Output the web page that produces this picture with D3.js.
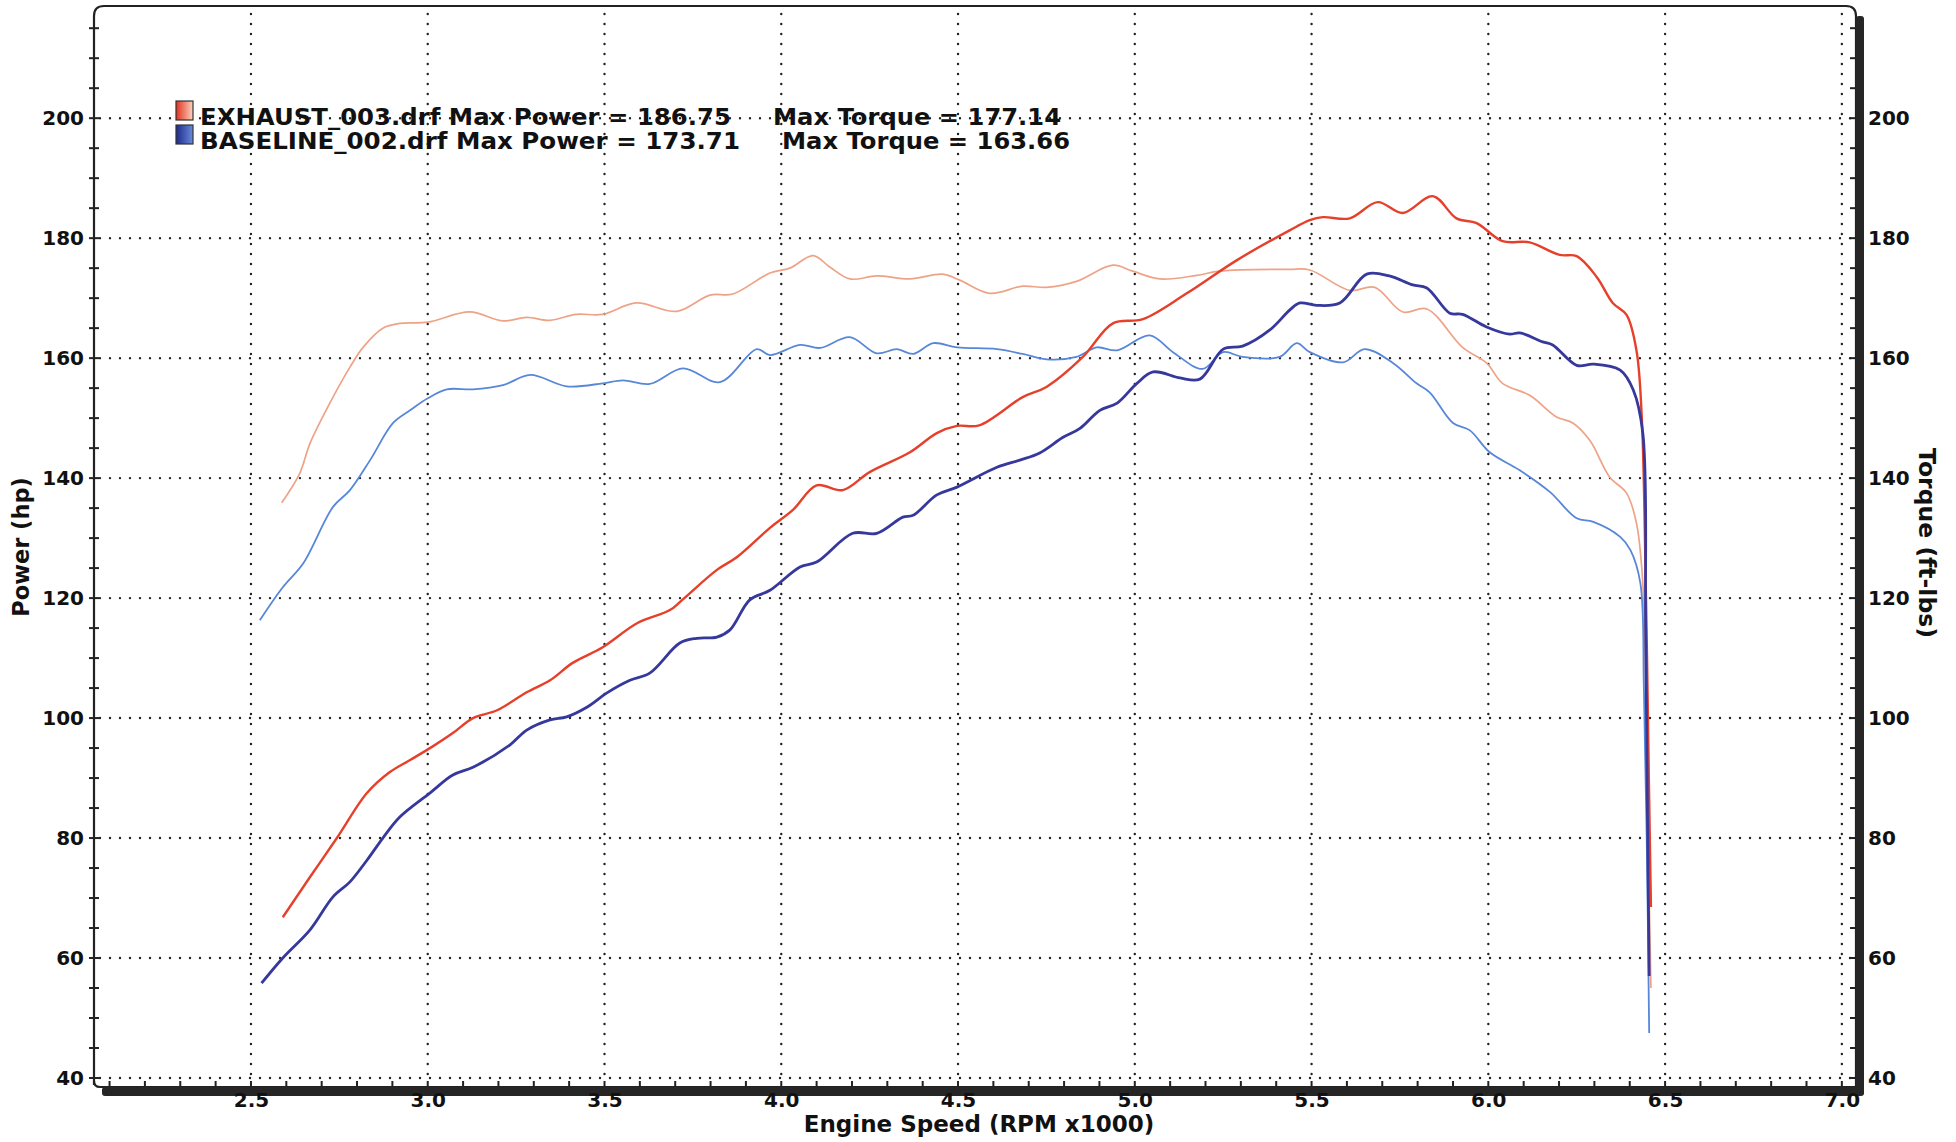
<!DOCTYPE html>
<html>

<head>
    <script src="https://d3js.org/d3.v7.min.js"></script>
    <style>
        body {
            margin: 0;
            background: #fff;
        }

        text {
            font-family: "DejaVu Sans", Verdana, sans-serif;
            font-weight: bold;
            fill: #111;
        }

        .grid {
            stroke: #222;
            stroke-width: 2.4;
            stroke-dasharray: 0, 10;
            stroke-linecap: round;
        }
    </style>
</head>

<body>
    <script>
        // [rpm x1000, value]
        var exhaustPower = [[2.59, 66.8], [2.667, 73.5], [2.743, 80], [2.828, 87.5], [2.893, 91], [2.95, 93], [3.012, 95.2],
        [3.071, 97.5], [3.128, 100], [3.196, 101.3], [3.28, 104.3], [3.346, 106.3], [3.41, 109.2], [3.495, 111.8],
        [3.592, 115.8], [3.685, 118], [3.72, 119.7], [3.818, 124.7], [3.874, 126.8], [3.968, 131.7], [4.033, 134.7],
        [4.1, 138.8], [4.174, 138], [4.25, 141], [4.364, 144.3], [4.44, 147.5], [4.497, 148.7], [4.56, 148.8],
        [4.683, 153.5], [4.75, 155.2], [4.853, 160.2], [4.938, 165.8], [5.023, 166.5], [5.147, 170.8], [5.288, 176.3],
        [5.438, 181.3], [5.495, 183], [5.532, 183.5], [5.608, 183.3], [5.687, 186], [5.758, 184.2], [5.843, 187],
        [5.91, 183.3], [5.967, 182.5], [6.04, 179.5], [6.117, 179.3], [6.202, 177.2], [6.25, 177], [6.307, 173.5],
        [6.352, 169.2], [6.391, 167.2], [6.419, 161.3], [6.434, 150.2], [6.446, 120], [6.454, 90], [6.46, 68.5]];

        var exhaustTorque = [[2.587, 135.9], [2.638, 140.8], [2.667, 145.8], [2.723, 152.5], [2.78, 158.5], [2.817, 161.8],
        [2.873, 165], [2.921, 165.8], [3.0, 166], [3.119, 167.7], [3.213, 166.2], [3.28, 166.8], [3.345, 166.3],
        [3.42, 167.3], [3.495, 167.3], [3.59, 169.2], [3.705, 167.8], [3.798, 170.5], [3.863, 170.7], [3.968, 174.2],
        [4.024, 175], [4.09, 177.1], [4.137, 175.2], [4.194, 173.2], [4.27, 173.7], [4.364, 173.2], [4.457, 174],
        [4.505, 173], [4.59, 170.8], [4.683, 172], [4.75, 171.8], [4.835, 172.8], [4.938, 175.5], [4.994, 174.5],
        [5.071, 173.2], [5.175, 173.8], [5.24, 174.5], [5.438, 174.8], [5.495, 174.7], [5.608, 171.3], [5.679, 171.8],
        [5.758, 167.7], [5.826, 168.2], [5.927, 161.8], [5.995, 159.2], [6.04, 155.8], [6.117, 153.8], [6.193, 150.2],
        [6.239, 149.2], [6.287, 146.3], [6.343, 140.2], [6.391, 137.5], [6.419, 132.5], [6.437, 122.5], [6.448, 95],
        [6.455, 70], [6.46, 55]];

        var baselinePower = [[2.53, 55.8], [2.59, 60], [2.667, 64.7], [2.732, 70.2], [2.78, 72.7], [2.828, 76.3], [2.873, 80],
        [2.921, 83.5], [3.006, 87.5], [3.071, 90.5], [3.128, 91.8], [3.232, 95.5], [3.28, 98], [3.346, 99.7],
        [3.393, 100.2], [3.45, 101.8], [3.507, 104.2], [3.572, 106.3], [3.628, 107.5], [3.713, 112.5], [3.761, 113.3],
        [3.818, 113.5], [3.855, 114.7], [3.911, 119.7], [3.968, 121.3], [4.053, 125.2], [4.1, 126], [4.202, 130.8],
        [4.27, 130.8], [4.344, 133.5], [4.373, 133.8], [4.44, 137.2], [4.497, 138.5], [4.61, 141.8], [4.675, 143],
        [4.731, 144.2], [4.797, 146.8], [4.845, 148.3], [4.901, 151.3], [4.95, 152.5], [5.006, 155.8], [5.052, 157.7],
        [5.128, 156.7], [5.184, 156.5], [5.25, 161.5], [5.305, 162], [5.382, 164.7], [5.438, 168], [5.467, 169.2],
        [5.514, 168.8], [5.58, 169.2], [5.656, 174], [5.72, 173.7], [5.786, 172.2], [5.826, 171.7], [5.891, 167.5],
        [5.927, 167.3], [5.995, 165.2], [6.06, 164], [6.089, 164.2], [6.154, 162.7], [6.182, 162.2], [6.25, 158.8],
        [6.297, 159], [6.373, 158], [6.41, 154.7], [6.437, 147.5], [6.445, 115], [6.45, 85], [6.455, 57]];

        var baselineTorque = [[2.525, 116.3], [2.59, 121.8], [2.648, 125.8], [2.732, 135.2], [2.78, 138], [2.837, 143],
        [2.902, 149.2], [2.95, 151.3], [3.0, 153.3], [3.054, 154.8], [3.128, 154.8], [3.213, 155.5], [3.29, 157.2],
        [3.393, 155.3], [3.495, 155.8], [3.552, 156.3], [3.628, 155.7], [3.722, 158.3], [3.826, 156], [3.931, 161.5],
        [3.968, 160.5], [4.053, 162.2], [4.11, 161.7], [4.194, 163.5], [4.27, 160.8], [4.327, 161.5], [4.373, 160.7],
        [4.43, 162.5], [4.497, 161.8], [4.61, 161.5], [4.683, 160.7], [4.75, 159.8], [4.835, 160.2], [4.892, 161.8],
        [4.95, 161.3], [5.042, 163.8], [5.108, 161], [5.192, 158.2], [5.25, 161], [5.305, 160.2], [5.41, 160.2],
        [5.458, 162.5], [5.495, 161], [5.589, 159.3], [5.65, 161.5], [5.73, 159.2], [5.797, 155.8], [5.834, 154.3],
        [5.9, 149.2], [5.947, 148], [6.004, 144.3], [6.089, 141.3], [6.174, 137.7], [6.25, 133.3], [6.297, 132.7],
        [6.373, 130.2], [6.402, 128], [6.43, 122.5], [6.44, 105], [6.448, 80], [6.455, 47.5]];

        var xTicks = [2.5, 3.0, 3.5, 4.0, 4.5, 5.0, 5.5, 6.0, 6.5, 7.0];
        var yTicks = [40, 60, 80, 100, 120, 140, 160, 180, 200];

        var legendRows = [
            { name: "EXHAUST_003.drf", power: "186.75", torque: "177.14", c1: "#e2301a", c2: "#fbd3c3" },
            { name: "BASELINE_002.drf", power: "173.71", torque: "163.66", c1: "#1c2a8c", c2: "#6a8ad8" }
        ];

        var width = 1956, height = 1142;
        var L = 94, R = 1856, T = 6, B = 1087;

        var svg = d3.select("body").append("svg")
            .attr("width", width)
            .attr("height", height);

        var x = d3.scaleLinear().domain([2.056, 7.04]).range([L, R]);
        var y = d3.scaleLinear().domain([38.5, 218.7]).range([B, T]);

        var defs = svg.append("defs");
        legendRows.forEach(function (d, i) {
            var g = defs.append("linearGradient").attr("id", "sw" + i);
            g.append("stop").attr("offset", "0%").attr("stop-color", d.c1);
            g.append("stop").attr("offset", "100%").attr("stop-color", d.c2);
        });

        // grid
        svg.append("g").selectAll("line.h")
            .data(yTicks)
            .enter().append("line")
            .attr("class", "grid")
            .attr("x1", L + 6).attr("x2", R - 4)
            .attr("y1", function (d) { return y(d); })
            .attr("y2", function (d) { return y(d); });

        svg.append("g").selectAll("line.v")
            .data(xTicks)
            .enter().append("line")
            .attr("class", "grid")
            .attr("y1", T + 8).attr("y2", B - 4)
            .attr("x1", function (d) { return x(d); })
            .attr("x2", function (d) { return x(d); });

        // frame: thin top/left, heavy right/bottom shadow
        svg.append("path")
            .attr("d", "M" + L + "," + (B - 2) + " L" + L + "," + (T + 10) + " Q" + L + "," + T + " " + (L + 10) + "," + T +
                " L" + (R - 10) + "," + T + " Q" + R + "," + T + " " + R + "," + (T + 10) + " L" + R + "," + B)
            .attr("fill", "none")
            .attr("stroke", "#222")
            .attr("stroke-width", 2.2);

        svg.append("path")
            .attr("d", "M" + L + "," + (B - 6) + " Q" + L + "," + B + " " + (L + 6) + "," + B + " L" + R + "," + B)
            .attr("fill", "none")
            .attr("stroke", "#222")
            .attr("stroke-width", 2.2);

        svg.append("rect")
            .attr("x", R).attr("y", T + 10)
            .attr("width", 8).attr("height", B - T - 2)
            .attr("rx", 3)
            .attr("fill", "#262626");

        svg.append("rect")
            .attr("x", L + 8).attr("y", B)
            .attr("width", R - L).attr("height", 9)
            .attr("rx", 3)
            .attr("fill", "#262626");

        // minor ticks
        var yMinor = d3.range(40, 219, 5);
        svg.append("g").selectAll("line")
            .data(yMinor)
            .enter().append("line")
            .attr("x1", L - 5).attr("x2", L + 5)
            .attr("y1", function (d) { return y(d); })
            .attr("y2", function (d) { return y(d); })
            .attr("stroke", "#222").attr("stroke-width", 2);

        svg.append("g").selectAll("line")
            .data(yMinor)
            .enter().append("line")
            .attr("x1", R - 6).attr("x2", R)
            .attr("y1", function (d) { return y(d); })
            .attr("y2", function (d) { return y(d); })
            .attr("stroke", "#222").attr("stroke-width", 2);

        var xMinor = d3.range(2.1, 7.01, 0.1);
        svg.append("g").selectAll("line")
            .data(xMinor)
            .enter().append("line")
            .attr("x1", function (d) { return x(d); })
            .attr("x2", function (d) { return x(d); })
            .attr("y1", B - 6).attr("y2", B)
            .attr("stroke", "#222").attr("stroke-width", 2);

        // tick labels through d3 axes
        var leftAxis = svg.append("g")
            .attr("transform", "translate(" + L + ",0)")
            .call(d3.axisLeft(y).tickValues(yTicks).tickSize(0).tickPadding(10).tickFormat(d3.format("d")));

        var rightAxis = svg.append("g")
            .attr("transform", "translate(" + (R + 2) + ",0)")
            .call(d3.axisRight(y).tickValues(yTicks).tickSize(0).tickPadding(10).tickFormat(d3.format("d")));

        var bottomAxis = svg.append("g")
            .attr("transform", "translate(0," + (B + 2) + ")")
            .call(d3.axisBottom(x).tickValues(xTicks).tickSize(0).tickPadding(4).tickFormat(d3.format(".1f")));

        [leftAxis, rightAxis, bottomAxis].forEach(function (a) {
            a.select(".domain").remove();
            a.selectAll("text")
                .attr("font-size", 20)
                .attr("font-family", "DejaVu Sans")
                .attr("font-weight", "bold")
                .attr("fill", "#111");
        });

        // curves
        var line = d3.line()
            .x(function (d) { return x(d[0]); })
            .y(function (d) { return y(d[1]); })
            .curve(d3.curveCatmullRom.alpha(0.5));

        var series = [
            { data: exhaustTorque, color: "#eea387", w: 1.7 },
            { data: baselineTorque, color: "#5787d8", w: 1.8 },
            { data: exhaustPower, color: "#e6402b", w: 2.4 },
            { data: baselinePower, color: "#36389c", w: 2.8 }
        ];

        svg.append("g").selectAll("path")
            .data(series)
            .enter().append("path")
            .attr("d", function (d) { return line(d.data); })
            .attr("fill", "none")
            .attr("stroke", function (d) { return d.color; })
            .attr("stroke-width", function (d) { return d.w; })
            .attr("stroke-linejoin", "round");

        // legend
        var leg = svg.append("g").selectAll("g")
            .data(legendRows)
            .enter().append("g")
            .attr("transform", function (d, i) { return "translate(0," + (i * 24) + ")"; });

        leg.append("rect")
            .attr("x", 176).attr("y", 101)
            .attr("width", 17).attr("height", 19)
            .attr("fill", function (d, i) { return "url(#sw" + i + ")"; })
            .attr("stroke", "#333").attr("stroke-width", 1.2);

        leg.append("text")
            .attr("x", 200).attr("y", 125)
            .attr("font-size", 23)
            .attr("textLength", function (d, i) { return i ? 540 : 531; })
            .attr("lengthAdjust", "spacingAndGlyphs")
            .text(function (d) { return d.name + " Max Power = " + d.power; });

        leg.append("text")
            .attr("x", function (d, i) { return i ? 782 : 773; })
            .attr("y", 125)
            .attr("font-size", 23)
            .attr("textLength", 288)
            .attr("lengthAdjust", "spacingAndGlyphs")
            .text(function (d) { return "Max Torque = " + d.torque; });

        // axis titles
        svg.append("text")
            .attr("transform", "translate(29,547) rotate(-90)")
            .attr("text-anchor", "middle")
            .attr("font-size", 22.5)
            .text("Power (hp)");

        svg.append("text")
            .attr("transform", "translate(1919,543) rotate(90)")
            .attr("text-anchor", "middle")
            .attr("font-size", 23.5)
            .text("Torque (ft-lbs)");

        svg.append("text")
            .attr("x", 979).attr("y", 1132)
            .attr("text-anchor", "middle")
            .attr("font-size", 23)
            .text("Engine Speed (RPM x1000)");
    </script>
</body>

</html>
